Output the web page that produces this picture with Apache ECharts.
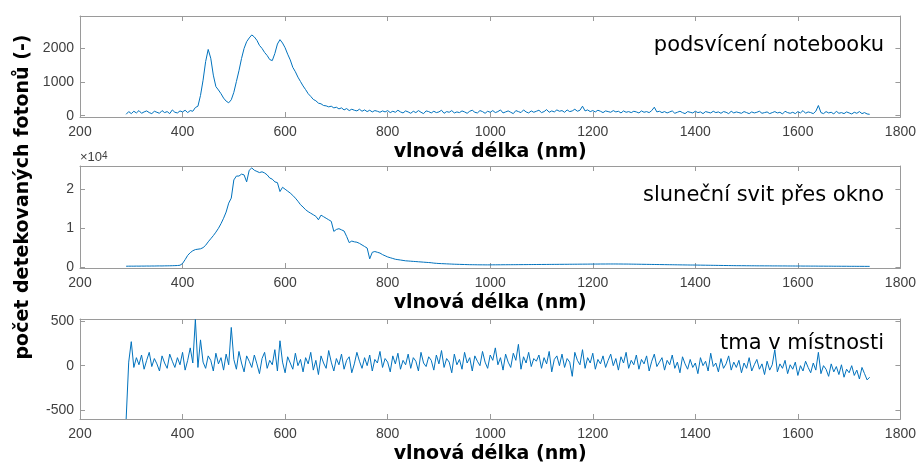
<!DOCTYPE html>
<html>
<head>
<meta charset="utf-8">
<script src="https://cdn.jsdelivr.net/npm/echarts@6/dist/echarts.min.js"></script>
<style>html,body{margin:0;padding:0;background:#fff}#c{width:919px;height:465px}</style>
</head>
<body>
<div id="c"></div>
<script>
// wavelength grid (nm), 5 nm step from 290 to 1740
const wavelengthStart = 290, wavelengthStep = 5, wavelengthCount = 291;
const xTicks = [200, 400, 600, 800, 1000, 1200, 1400, 1600, 1800];
const panelTitles = ['podsvícení notebooku', 'sluneční svit přes okno', 'tma v místnosti'];
const xAxisTitle = 'vlnová délka (nm)';
const yAxisTitle = 'počet detekovaných fotonů (-)';
const yTicks1 = [0, 1000, 2000];
const yTicks2 = [0, 10000, 20000];
const yTicks3 = [-500, 0, 500];

// panel 1: notebook backlight
const notebook = [
  40,120,60,130,80,150,70,110,140,90,
  60,130,100,70,150,90,120,60,170,100,
  80,140,110,160,90,150,130,240,280,600,
  1050,1600,1960,1700,1200,860,760,650,520,430,
  380,470,690,1010,1330,1690,1990,2190,2300,2390,
  2330,2230,2080,1990,1870,1780,1660,1630,1840,2120,
  2250,2150,2010,1820,1650,1430,1300,1140,1010,880,
  770,650,570,480,440,370,350,300,290,260,
  280,230,250,200,230,170,210,150,190,160,
  140,190,130,170,120,160,110,150,130,100,
  140,110,150,90,130,100,160,110,80,140,
  110,70,130,90,150,100,60,140,120,80,
  130,90,110,160,70,120,100,150,80,110,
  90,140,110,70,130,160,100,80,150,120,
  70,130,100,150,90,120,170,80,110,140,
  100,60,150,120,90,170,110,80,140,100,
  130,160,90,120,180,100,140,110,170,130,
  150,100,170,120,140,190,130,160,280,140,
  170,120,150,110,160,130,90,140,120,100,
  150,110,130,80,140,100,120,90,130,110,
  80,140,100,120,90,150,250,110,130,90,
  120,80,110,140,70,100,130,90,60,120,
  100,80,130,90,110,60,120,100,80,130,
  90,110,70,120,100,60,130,80,110,90,
  70,120,90,60,110,80,100,130,70,90,
  110,60,90,120,80,100,50,130,90,70,
  100,60,120,80,150,70,110,90,60,130,
  300,90,60,120,80,100,50,130,70,90,
  60,110,80,50,100,70,120,60,90,50,
  40
];

// panel 2: sunlight through window
const sunlight = [
  200,210,220,210,230,220,240,230,250,240,
  260,250,270,280,270,290,300,310,330,350,
  380,450,900,1900,3000,3700,4200,4500,4600,4700,
  5000,5600,6500,7300,8100,9000,10000,11200,12600,14200,
  16500,17800,22500,23500,23500,24000,23800,22000,25000,25600,
  25000,24700,24400,24600,24300,23800,23000,22700,22000,21800,
  19500,20600,20100,19600,19100,18500,17800,17000,16100,15500,
  14800,14300,13900,13500,13100,12200,13400,13000,12600,12200,
  11800,9200,9700,9900,9600,9300,7900,6300,6700,6500,
  6400,6100,5700,5300,4900,2100,3800,4000,3800,3600,
  3200,2900,2600,2400,2200,2000,1900,1800,1700,1600,
  1550,1500,1450,1400,1350,1300,1250,1200,1150,1100,
  1000,950,900,870,840,810,780,750,720,700,
  680,660,640,620,600,590,580,570,560,560,
  550,550,550,560,560,570,570,580,580,590,
  590,600,600,610,610,620,620,630,630,640,
  640,650,650,660,660,670,670,680,680,690,
  690,700,700,710,710,720,720,730,730,740,
  740,750,750,760,760,770,770,770,780,780,
  780,780,770,770,760,760,750,740,730,720,
  710,700,690,680,670,660,650,640,630,620,
  610,600,590,580,570,560,550,540,530,520,
  510,510,500,490,480,470,460,450,440,430,
  420,410,400,390,380,370,360,350,340,340,
  330,330,320,320,310,310,300,300,300,290,
  290,290,280,280,280,270,270,270,260,260,
  260,250,250,250,240,240,240,230,230,230,
  220,220,220,210,210,210,200,200,200,190,
  190,190,180,180,180,170,170,170,160,160,
  160
];

// panel 3: dark room
const darkRoom = [
  -600,40,270,-20,90,10,120,-40,60,150,
  -10,80,20,-60,110,30,-30,130,50,-20,
  90,10,150,-50,60,200,30,520,-20,290,
  40,-30,110,60,-60,140,20,90,-50,130,
  10,430,70,-40,160,30,-70,110,50,-20,
  120,20,-90,80,150,-30,60,10,180,-60,
  280,40,-80,100,30,-40,140,0,70,-70,
  90,20,150,-50,60,-100,110,30,-30,170,
  40,-60,80,10,130,-40,60,100,-80,20,
  150,50,-30,90,0,120,-60,70,30,160,
  -20,80,40,-70,110,20,140,-40,60,10,
  130,-30,90,50,-60,150,30,-10,100,60,
  -50,120,20,170,-20,80,40,-80,130,10,
  70,-40,150,30,90,-60,110,50,0,160,
  40,-30,120,60,200,10,90,-50,130,40,
  -20,140,60,240,-40,100,30,150,-10,80,
  50,120,-30,90,20,160,-70,70,110,0,
  130,-20,80,40,-120,150,60,10,180,-30,
  90,30,140,-40,70,20,110,-20,60,130,
  0,80,-50,100,30,150,-30,60,10,120,
  -40,70,20,110,-60,50,130,-10,40,90,
  -50,60,10,120,-30,40,-80,100,20,-40,
  70,-20,30,-90,90,0,50,-60,140,-10,
  30,-70,80,-30,20,110,-50,40,-20,60,
  -80,30,-30,90,-60,10,70,-40,20,-100,
  50,-50,10,180,-70,20,-30,60,-90,10,
  -40,40,-110,0,-60,50,-20,-80,30,-50,
  150,-90,0,-40,-120,20,-70,-10,-100,10,
  -130,-40,-80,0,-110,-50,-150,-20,-90,-160,
  -130
];

const wavelength = [];
for (let i = 0; i < wavelengthCount; i++) wavelength.push(wavelengthStart + i * wavelengthStep);
const pairs = vals => vals.map((v, i) => [wavelength[i], v]);

const chart = echarts.init(document.getElementById('c'), null, {renderer: 'canvas'});
const AX = '#9a9a9a', TXT = '#404040', FONT = 'Liberation Sans, Arial, sans-serif';
const grids = [
  {left: 80, right: 18, top: 16, height: 101},
  {left: 80, right: 18, top: 166, height: 102},
  {left: 80, right: 18, top: 319, height: 101}
];
const yRanges = [
  {min: -40, max: 2950, ticks: yTicks1, fmt: v => String(v)},
  {min: -260, max: 26100, ticks: yTicks2, fmt: v => String(v / 10000)},
  {min: -600, max: 525, ticks: yTicks3, fmt: v => String(v)}
];
const xAxes = [], yAxes = [];
grids.forEach((g, i) => {
  const common = {type: 'value', gridIndex: i, min: xTicks[0], max: xTicks[xTicks.length - 1], interval: 200,
    axisLine: {show: true, onZero: false, lineStyle: {color: AX, width: 1}},
    axisTick: {show: true, inside: true, length: 5, lineStyle: {color: AX}},
    splitLine: {show: false}};
  xAxes.push(Object.assign({}, common, {position: 'bottom',
    axisLabel: {show: true, color: TXT, fontSize: 14, fontFamily: FONT, margin: 8, formatter: v => String(v)},
    name: xAxisTitle, nameLocation: 'middle', nameGap: 26,
    nameTextStyle: {color: '#000', fontSize: 19, fontWeight: 'bold', fontFamily: 'DejaVu Sans'}}));
  xAxes.push(Object.assign({}, common, {position: 'top', axisLabel: {show: false}}));
  const r = yRanges[i];
  const yc = {type: 'value', gridIndex: i, min: r.min, max: r.max,
    axisLine: {show: true, onZero: false, lineStyle: {color: AX, width: 1}},
    axisTick: {show: true, inside: true, length: 5, lineStyle: {color: AX}, customValues: r.ticks},
    splitLine: {show: false}};
  yAxes.push(Object.assign({}, yc, {position: 'left',
    axisLabel: {show: true, color: TXT, fontSize: 14, fontFamily: FONT, margin: 6, customValues: r.ticks, formatter: r.fmt}}));
  yAxes.push(Object.assign({}, yc, {position: 'right', axisLabel: {show: false}}));
});
const datasets = [notebook, sunlight, darkRoom];
const series = datasets.map((d, i) => ({
  type: 'line', xAxisIndex: i * 2, yAxisIndex: i * 2, data: pairs(d),
  showSymbol: false, symbol: 'none', animation: false,
  lineStyle: {color: '#0072BD', width: 1}, z: 2
}));
const titleTops = [30, 180, 328];
chart.setOption({
  animation: false,
  grid: grids,
  xAxis: xAxes,
  yAxis: yAxes,
  series: series,
  title: panelTitles.map((t, i) => ({text: t, right: 30, top: titleTops[i],
    textStyle: {color: '#000', fontSize: 21, fontWeight: 'normal', fontFamily: 'DejaVu Sans'}})),
  graphic: [
    {type: 'text', x: 23, y: 197, rotation: Math.PI / 2,
      style: {text: yAxisTitle, fill: '#000', font: 'bold 19px "DejaVu Sans"', textAlign: 'center', textVerticalAlign: 'middle'}},
    {type: 'text', x: 80, y: 151,
      style: {text: '×10{s|4}', rich: {s: {fontSize: 10, verticalAlign: 'top', fill: TXT, fontFamily: 'Liberation Sans'}}, fill: TXT, font: '13px "Liberation Sans"'}}
  ]
});
</script>
</body>
</html>
